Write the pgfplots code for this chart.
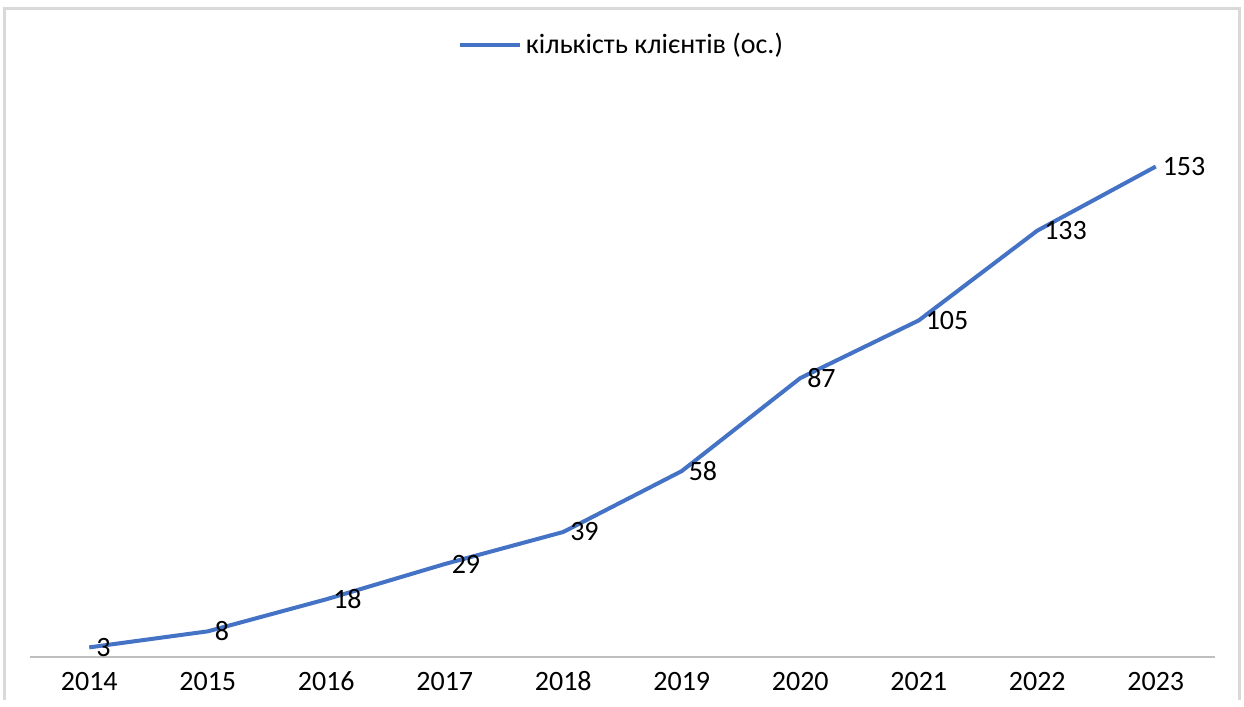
\documentclass[border=0pt]{standalone}
\usepackage{pgfplots}
\pgfplotsset{compat=1.18}
\usepackage{fontspec}
\setmainfont{Carlito}
\definecolor{xlblue}{HTML}{4472C4}
\definecolor{xlgray}{HTML}{D9D9D9}
\definecolor{axgray}{HTML}{BFBFBF}
\begin{document}
\begin{tikzpicture}[x=0.5pt,y=0.5pt]
\fill[white] (0,0) rectangle (1244,700);
\draw[xlgray,line width=1.5pt] (4.5,0) -- (4.5,691.5) -- (1239.5,691.5) -- (1239.5,0);
\begin{axis}[
  at={(15pt,21.5pt)}, anchor=south west,
  scale only axis,
  width=592.5pt, height=288.5pt,
  xmin=-0.5, xmax=9.5, ymin=0, ymax=180,
  axis y line=none,
  axis x line*=bottom,
  x axis line style={axgray, line width=0.75pt, -},
  xtick={0,...,9},
  xticklabels={2014,2015,2016,2017,2018,2019,2020,2021,2022,2023},
  major tick length=0pt,
  typeset ticklabels with strut,
  xticklabel style={font=\fontsize{14}{16}\selectfont, yshift=-2pt},
  /pgf/number format/assume math mode=true,
  clip=false,
  nodes near coords,
  every node near coord/.append style={font=\fontsize{14}{16}\selectfont, anchor=west, inner sep=1pt, xshift=1.5pt, text=black},
  legend style={at={(0.5,1.0)}, yshift=17.5pt, anchor=center, draw=none, fill=none, font=\fontsize{14}{16}\selectfont, legend columns=1},
  legend image code/.code={\draw[#1, line width=2pt] (0cm,0cm) -- (30pt,0cm);},
]
\addplot[xlblue, line width=2pt, mark=none] coordinates {
(0,3) (1,8) (2,18) (3,29) (4,39) (5,58) (6,87) (7,105) (8,133) (9,153)
};
\addlegendentry{кількість клієнтів (ос.)}
\end{axis}
\end{tikzpicture}
\end{document}
